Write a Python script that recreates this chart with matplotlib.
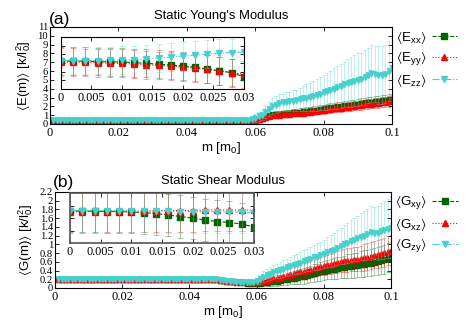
import numpy as np
import matplotlib
matplotlib.use("Agg")
import matplotlib.pyplot as plt
from matplotlib.lines import Line2D

plt.rcParams.update({'font.family': 'Liberation Sans', 'font.size': 9,
                     'mathtext.fontset': 'custom', 'mathtext.rm': 'Liberation Sans',
                     'mathtext.it': 'Liberation Sans', 'mathtext.default': 'regular'})

# ---------------- data ----------------
m = np.round(np.arange(1, 101) * 0.001, 3)          # 0.001 .. 0.100
m_in = np.round(np.arange(0, 16) * 0.002, 3)        # inset 0 .. 0.030

# Young's modulus, main panel
e_xx = [0.45] * 57 + [0.46, 0.48, 0.52, 0.6, 0.72, 0.88, 1.0, 1.08, 1.12, 1.16,
                      1.2, 1.24, 1.28, 1.32, 1.36, 1.4, 1.44, 1.5, 1.55, 1.6,
                      1.64, 1.7, 1.78, 1.84, 1.9, 1.96, 2.0, 2.06, 2.1, 2.16,
                      2.2, 2.26, 2.32, 2.38, 2.44, 2.48, 2.54, 2.6, 2.64, 2.68,
                      2.74, 2.78, 2.84]
e_yy = [0.42] * 57 + [0.44, 0.45, 0.48, 0.54, 0.64, 0.78, 0.9, 0.98, 1.02, 1.05,
                      1.09, 1.12, 1.16, 1.2, 1.24, 1.27, 1.3, 1.36, 1.4, 1.44,
                      1.48, 1.53, 1.6, 1.66, 1.7, 1.76, 1.8, 1.86, 1.9, 1.96,
                      2.0, 2.06, 2.1, 2.16, 2.22, 2.26, 2.32, 2.36, 2.42, 2.46,
                      2.5, 2.56, 2.64]
e_zz = [0.48] * 57 + [0.5, 0.56, 0.68, 0.85, 1.05, 1.4, 1.75, 2.0, 2.2, 2.35,
                      2.45, 2.52, 2.58, 2.64, 2.7, 2.8, 2.9, 3.0, 3.1, 3.2,
                      3.3, 3.45, 3.6, 3.72, 3.85, 4.0, 4.15, 4.3, 4.48, 4.65,
                      4.78, 4.9, 5.0, 5.1, 5.3, 5.5, 5.75, 5.7, 5.6, 5.55,
                      5.7, 6.0, 6.35]
err_e_xy = [0.12] * 57 + [0.15, 0.18, 0.2, 0.22, 0.25, 0.28, 0.3, 0.3, 0.3, 0.32,
                          0.32, 0.34, 0.34, 0.35, 0.36, 0.36, 0.38, 0.38, 0.4, 0.4,
                          0.4, 0.42, 0.42, 0.44, 0.44, 0.45, 0.46, 0.46, 0.48, 0.48,
                          0.5, 0.5, 0.5, 0.52, 0.52, 0.54, 0.55, 0.55, 0.56, 0.58,
                          0.58, 0.6, 0.6]
err_e_zz = [0.12] * 57 + [0.2, 0.3, 0.4, 0.5, 0.6, 0.7, 0.8, 0.9, 1.0, 1.0,
                          1.0, 1.1, 1.1, 1.2, 1.2, 1.3, 1.4, 1.5, 1.6, 1.7,
                          1.8, 1.9, 2.0, 2.1, 2.2, 2.3, 2.4, 2.5, 2.6, 2.7,
                          2.8, 2.9, 3.0, 3.0, 3.1, 3.1, 3.2, 3.2, 3.3, 3.3,
                          3.3, 3.4, 3.4]

# Young's modulus, inset
e_xx_in = [0.461, 0.461, 0.461, 0.458, 0.456, 0.456, 0.452, 0.448,
           0.443, 0.438, 0.433, 0.425, 0.415, 0.405, 0.394, 0.371]
e_yy_in = [0.455, 0.455, 0.453, 0.452, 0.449, 0.448, 0.444, 0.440,
           0.436, 0.432, 0.427, 0.421, 0.414, 0.404, 0.395, 0.384]
e_zz_in = [0.464, 0.464, 0.464, 0.464, 0.465, 0.467, 0.470, 0.473,
           0.478, 0.484, 0.490, 0.496, 0.501, 0.507, 0.510, 0.513]
err_e_in = [0.08] * 16

# Shear modulus, main panel
g_xy = [0.2] * 48 + [0.19, 0.18, 0.17, 0.16, 0.15, 0.14, 0.13, 0.13, 0.12] + \
       [0.12, 0.12, 0.12, 0.12, 0.13, 0.14, 0.15, 0.16, 0.17, 0.18,
        0.2, 0.21, 0.22, 0.24, 0.25, 0.27, 0.28, 0.3, 0.32, 0.34,
        0.36, 0.38, 0.4, 0.42, 0.43, 0.44, 0.46, 0.47, 0.48, 0.5,
        0.51, 0.52, 0.53, 0.55, 0.56, 0.57, 0.58, 0.6, 0.62, 0.64,
        0.66, 0.69, 0.71]
g_xz = [0.2] * 48 + [0.19, 0.18, 0.17, 0.16, 0.16, 0.15, 0.15, 0.15, 0.14] + \
       [0.13, 0.13, 0.14, 0.15, 0.17, 0.18, 0.2, 0.22, 0.24, 0.26,
        0.28, 0.3, 0.32, 0.34, 0.36, 0.38, 0.4, 0.42, 0.44, 0.46,
        0.48, 0.5, 0.52, 0.54, 0.56, 0.58, 0.6, 0.62, 0.63, 0.64,
        0.65, 0.66, 0.67, 0.68, 0.7, 0.72, 0.74, 0.76, 0.78, 0.8,
        0.82, 0.85, 0.87]
g_zy = [0.2] * 48 + [0.19, 0.18, 0.17, 0.16, 0.15, 0.14, 0.14, 0.13, 0.13] + \
       [0.13, 0.14, 0.16, 0.2, 0.26, 0.3, 0.33, 0.36, 0.39, 0.41,
        0.44, 0.47, 0.5, 0.53, 0.56, 0.58, 0.61, 0.64, 0.67, 0.7,
        0.72, 0.75, 0.78, 0.82, 0.85, 0.88, 0.92, 0.96, 1.0, 1.04,
        1.08, 1.11, 1.14, 1.17, 1.2, 1.24, 1.28, 1.26, 1.25, 1.3,
        1.33, 1.36, 1.38]
err_g_xy = [0.04] * 57 + [0.05, 0.06, 0.07, 0.08, 0.09, 0.1, 0.1, 0.11, 0.12, 0.12,
                          0.13, 0.14, 0.14, 0.15, 0.16, 0.17, 0.18, 0.18, 0.19, 0.2,
                          0.2, 0.21, 0.22, 0.22, 0.23, 0.24, 0.25, 0.25, 0.26, 0.27,
                          0.27, 0.28, 0.28, 0.29, 0.3, 0.3, 0.31, 0.31, 0.32, 0.32,
                          0.33, 0.33, 0.34]
err_g_zy = [0.04] * 57 + [0.05, 0.06, 0.08, 0.1, 0.12, 0.14, 0.15, 0.16, 0.17, 0.18,
                          0.19, 0.2, 0.21, 0.22, 0.23, 0.24, 0.25, 0.26, 0.27, 0.28,
                          0.3, 0.31, 0.32, 0.34, 0.36, 0.38, 0.4, 0.42, 0.44, 0.46,
                          0.48, 0.5, 0.52, 0.54, 0.56, 0.58, 0.6, 0.6, 0.62, 0.64,
                          0.66, 0.68, 0.7]

# Shear modulus, inset
g_xy_in = [0.228, 0.228, 0.228, 0.226, 0.226, 0.224, 0.222, 0.218,
           0.212, 0.206, 0.200, 0.192, 0.186, 0.182, 0.176, 0.164]
g_xz_in = [0.224, 0.226, 0.226, 0.228, 0.228, 0.228, 0.228, 0.230,
           0.230, 0.230, 0.230, 0.232, 0.232, 0.232, 0.232, 0.232]
g_zy_in = [0.230, 0.230, 0.230, 0.229, 0.229, 0.228, 0.228, 0.227,
           0.227, 0.226, 0.226, 0.225, 0.225, 0.224, 0.224, 0.222]
err_g_in = [0.085] * 16

C_G, C_R, C_C = '#006400', '#ff0000', '#48d1cc'
SERIF = 'Liberation Serif'


def draw(ax, x, y, err, color, ls, marker, ms, cap):
    ax.errorbar(x, y, yerr=err, fmt='none', ecolor=color, alpha=0.35,
                elinewidth=0.7, capsize=cap, capthick=0.7)
    ax.plot(x, y, ls=ls, color=color, lw=0.8, marker=marker, ms=ms)


def style(ax, xsize=9, ysize=7.6):
    ax.tick_params(direction='in', top=True, right=True, length=3, width=0.6,
                   pad=2)
    ax.tick_params(axis='x', labelsize=xsize)
    ax.tick_params(axis='y', labelsize=ysize, pad=1.5)
    for lab in ax.get_xticklabels() + ax.get_yticklabels():
        lab.set_family(SERIF)
    for s in ax.spines.values():
        s.set_linewidth(0.8)


def add_legend(ax, labels):
    hs = [Line2D([], [], color=C_G, ls='--', lw=0.8, marker='s', ms=4.5),
          Line2D([], [], color=C_R, ls=':', lw=0.8, marker='^', ms=4.5),
          Line2D([], [], color=C_C, ls='-.', lw=0.8, marker='v', ms=4.5)]
    ax.legend(hs, labels, loc='upper left', bbox_to_anchor=(1.0, 1.02),
              frameon=False, markerfirst=False, handlelength=1.9,
              labelspacing=0.28, fontsize=9.6, borderaxespad=0.1,
              handletextpad=0.4, borderpad=0.2)


fig = plt.figure(figsize=(4.69, 3.28), dpi=100)

# ---------- panel (a) ----------
ax1 = fig.add_axes([0.1066, 0.622, 0.7292, 0.2957])
draw(ax1, m, e_xx, err_e_xy, C_G, '--', 's', 3.6, 1.5)
draw(ax1, m, e_yy, err_e_xy, C_R, ':', '^', 3.6, 1.5)
draw(ax1, m, e_zz, err_e_zz, C_C, '-.', 'v', 3.6, 1.5)
ax1.set_xlim(0, 0.1)
ax1.set_ylim(0, 11)
ax1.set_xticks([0, 0.02, 0.04, 0.06, 0.08, 0.1])
ax1.set_xticklabels(['0', '0.02', '0.04', '0.06', '0.08', '0.1'])
ax1.set_yticks(range(0, 12))
style(ax1)
ax1.set_xlabel('m [m$_0$]', fontsize=9.5, labelpad=1)
ax1.set_ylabel(r'$\langle$E(m)$\rangle$ [k/l$_0^2$]', fontsize=9.5, labelpad=3)
ax1.set_title("Static Young's Modulus", fontsize=9.4, pad=6)
fig.text(0.104, 0.928, '(a)', fontsize=12.5)

ins1 = fig.add_axes([0.130, 0.7287, 0.390, 0.1585])
draw(ins1, m_in, e_xx_in, err_e_in, C_G, '--', 's', 4.3, 2)
draw(ins1, m_in, e_yy_in, err_e_in, C_R, ':', '^', 4.3, 2)
draw(ins1, m_in, e_zz_in, err_e_in, C_C, '-.', 'v', 4.3, 2)
ins1.set_xlim(0, 0.03)
ins1.set_ylim(0.3, 0.6)
ins1.set_xticks([0, 0.005, 0.01, 0.015, 0.02, 0.025, 0.03])
ins1.set_xticklabels(['0', '0.005', '0.01', '0.015', '0.02', '0.025', '0.03'])
ins1.set_yticks([0.35, 0.4, 0.45, 0.5, 0.55])
ins1.set_yticklabels([])
style(ins1, 8.8)

add_legend(ax1, [r'$\langle$E$_{xx}\rangle$', r'$\langle$E$_{yy}\rangle$',
                 r'$\langle$E$_{zz}\rangle$'])

# ---------- panel (b) ----------
ax2 = fig.add_axes([0.1173, 0.122, 0.7164, 0.2927])
draw(ax2, m, g_xy, err_g_xy, C_G, '--', 's', 3.6, 1.5)
draw(ax2, m, g_xz, err_g_xy, C_R, ':', '^', 3.6, 1.5)
draw(ax2, m, g_zy, err_g_zy, C_C, '-.', 'v', 3.6, 1.5)
ax2.set_xlim(0, 0.1)
ax2.set_ylim(0, 2.2)
ax2.set_xticks([0, 0.02, 0.04, 0.06, 0.08, 0.1])
ax2.set_xticklabels(['0', '0.02', '0.04', '0.06', '0.08', '0.1'])
ax2.set_yticks(np.round(np.arange(0, 2.21, 0.2), 1))
ax2.set_yticklabels(['0', '0.2', '0.4', '0.6', '0.8', '1', '1.2', '1.4',
                     '1.6', '1.8', '2', '2.2'])
style(ax2)
ax2.set_xlabel('m [m$_0$]', fontsize=9.5, labelpad=1)
ax2.set_ylabel(r'$\langle$G(m)$\rangle$ [k/l$_0^2$]', fontsize=9.5, labelpad=3)
ax2.set_title('Static Shear Modulus', fontsize=9.4, pad=6)
fig.text(0.112, 0.43, '(b)', fontsize=12.5)

ins2 = fig.add_axes([0.1493, 0.2591, 0.3923, 0.1524])
draw(ins2, m_in, g_xy_in, err_g_in, C_G, '--', 's', 4.3, 2)
draw(ins2, m_in, g_xz_in, err_g_in, C_R, ':', '^', 4.3, 2)
draw(ins2, m_in, g_zy_in, err_g_in, C_C, '-.', 'v', 4.3, 2)
ins2.set_xlim(0, 0.03)
ins2.set_ylim(0.1, 0.3)
ins2.set_xticks([0, 0.005, 0.01, 0.015, 0.02, 0.025, 0.03])
ins2.set_xticklabels(['0', '0.005', '0.01', '0.015', '0.02', '0.025', '0.03'])
ins2.set_yticks([0.15, 0.2, 0.25])
ins2.set_yticklabels([])
style(ins2, 8.8)
for s in ins2.spines.values():
    s.set_color('#555555')
    s.set_linewidth(1.2)

add_legend(ax2, [r'$\langle$G$_{xy}\rangle$', r'$\langle$G$_{xz}\rangle$',
                 r'$\langle$G$_{zy}\rangle$'])

fig.savefig('out.png', dpi=100)
